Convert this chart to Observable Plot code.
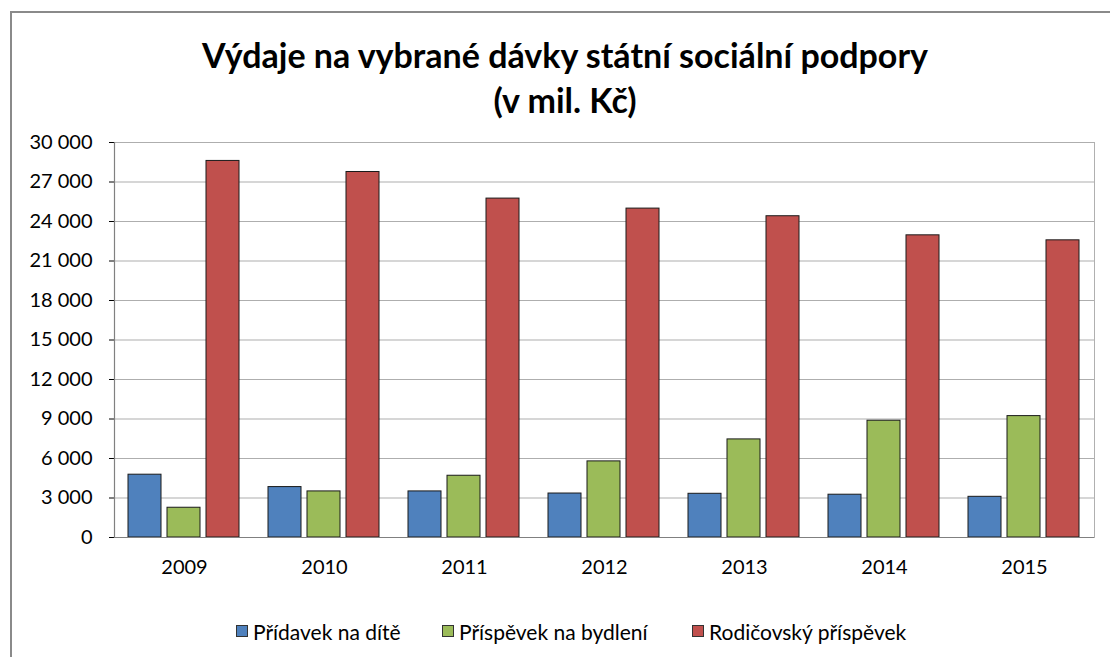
<!DOCTYPE html>
<html>
<head>
<meta charset="utf-8">
<script src="https://cdn.jsdelivr.net/npm/d3@7"></script>
<script src="https://cdn.jsdelivr.net/npm/@observablehq/plot@0.6"></script>
<style>
  html, body { margin: 0; padding: 0; background: #fff; }
  #root { position: relative; width: 1110px; height: 657px; overflow: hidden; font-family: Lato, "Open Sans", sans-serif; }
  #border { position: absolute; left: 10px; top: 11px; width: 1200px; height: 700px; border-left: 2px solid #8a8a8a; border-top: 2px solid #8a8a8a; }
  #title { position: absolute; left: 0; width: 1130px; top: 32px; text-align: center; font-weight: bold; font-size: 34px; line-height: 45px; color: #000; }
  #chart { position: absolute; left: 0; top: 118px; }
  #legend { position: absolute; top: 618px; left: 0; width: 1110px; height: 26px; font-size: 21px; color: #000; }
  .item { position: absolute; top: 0; display: flex; align-items: center; height: 26px; }
  .sw { width: 10px; height: 10px; border: 1px solid #333; margin-right: 5px; }
</style>
</head>
<body>
<div id="root">
  <div id="border"></div>
  <div id="title">Výdaje na vybrané dávky státní sociální podpory<br>(v mil. Kč)</div>
  <div id="chart"></div>
  <div id="legend"></div>
</div>
<script>
const years = ["2009", "2010", "2011", "2012", "2013", "2014", "2015"];
const seriesNames = ["Přídavek na dítě", "Příspěvek na bydlení", "Rodičovský příspěvek"];
const seriesColors = ["#4F81BD", "#9BBB59", "#C0504D"];
const pridavekNaDite = [4770, 3830, 3500, 3340, 3320, 3250, 3090];
const prispevekNaBydleni = [2260, 3500, 4690, 5780, 7450, 8870, 9220];
const rodicovskyPrispevek = [28600, 27760, 25740, 24980, 24400, 22950, 22570];
const yTicks = [0, 3000, 6000, 9000, 12000, 15000, 18000, 21000, 24000, 27000, 30000];

const seriesValues = [pridavekNaDite, prispevekNaBydleni, rodicovskyPrispevek];
const rows = [];
years.forEach((y, i) => seriesNames.forEach((s, j) => rows.push({year: y, series: s, value: seriesValues[j][i]})));

const loc = d3.formatLocale({decimal: ",", thousands: "\u00a0", grouping: [3], currency: ["", ""]});
const fmt = loc.format(",d");

const chart = Plot.plot({
  width: 1110,
  height: 470,
  marginTop: 24,
  marginBottom: 51,
  marginLeft: 111,
  marginRight: 13,
  style: {fontFamily: "Lato, 'Open Sans', sans-serif", fontSize: "20px", color: "#000", background: "transparent"},
  fx: {domain: years, padding: 0, label: null, tickSize: 0, tickPadding: 22, axis: "bottom"},
  x: {domain: seriesNames, paddingInner: 0.15, paddingOuter: 0.3375, axis: null},
  y: {domain: [0, 30000], ticks: yTicks, tickFormat: fmt, tickSize: 5, tickPadding: 17, label: null, grid: false},
  color: {domain: seriesNames, range: seriesColors},
  marks: [
    Plot.gridY(yTicks, {stroke: "#9a9a9a", strokeOpacity: 0.8, strokeWidth: 1}),
    Plot.barY(rows, {fx: "year", x: "series", y: "value", fill: "series", stroke: "#1a1a1a", strokeWidth: 1}),
    Plot.ruleY([0], {stroke: "#808080", strokeWidth: 1.2}),
    Plot.frame({anchor: "left", facetAnchor: "left", stroke: "#808080", strokeWidth: 1.2}),
    Plot.frame({anchor: "right", facetAnchor: "right", stroke: "#b0b0b0", strokeWidth: 1})
  ]
});
document.getElementById("chart").appendChild(chart);

const legendLefts = [236, 442, 692];
const legend = document.getElementById("legend");
seriesNames.forEach((s, j) => {
  const it = document.createElement("div");
  it.className = "item";
  it.style.left = legendLefts[j] + "px";
  const sw = document.createElement("span");
  sw.className = "sw";
  sw.style.background = seriesColors[j];
  const t = document.createElement("span");
  t.textContent = s;
  it.appendChild(sw);
  it.appendChild(t);
  legend.appendChild(it);
});
</script>
</body>
</html>
